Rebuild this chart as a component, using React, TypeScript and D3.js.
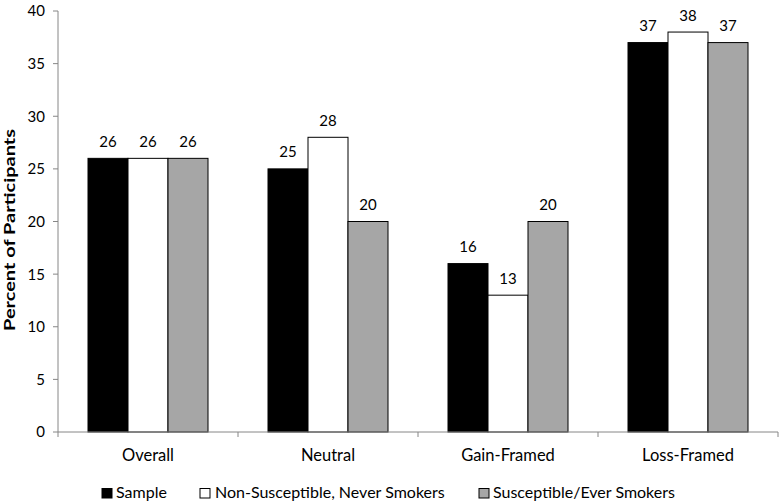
import React from "react";
import * as d3 from "d3";

const categories = ["Overall", "Neutral", "Gain-Framed", "Loss-Framed"];
const seriesNames = ["Sample", "Non-Susceptible, Never Smokers", "Susceptible/Ever Smokers"];
const sample = [26, 25, 16, 37];
const nonSusceptible = [26, 28, 13, 38];
const susceptible = [26, 20, 20, 37];
const yTicks = [0, 5, 10, 15, 20, 25, 30, 35, 40];
const fills = ["#000000", "#ffffff", "#a6a6a6"];

const W = 780, H = 503;
const left = 58, right = 778, top = 11, bottom = 432;
const font = "Lato, 'Open Sans', sans-serif";

export default function App() {
  const series = [sample, nonSusceptible, susceptible];
  const x = d3.scaleBand().domain(categories).range([left, right]).paddingInner(0).paddingOuter(0);
  const inner = d3.scaleBand().domain(seriesNames).range([30, x.bandwidth() - 30]);
  const y = d3.scaleLinear().domain([0, 40]).range([bottom, top]);
  const boundaries = [...categories.map((c) => x(c) as number), right];

  const legendItems = [
    { box: 102, text: 116 },
    { box: 200, text: 215 },
    { box: 479, text: 493 },
  ];

  return (
    <svg width={W} height={H} style={{ position: "absolute", left: 0, top: 0, background: "#fff" }}>
      {/* bars */}
      {categories.map((c, ci) =>
        series.map((s, si) => {
          const bx = (x(c) as number) + (inner(seriesNames[si]) as number);
          const bw = inner.bandwidth();
          const by = y(s[ci]);
          return (
            <g key={c + si}>
              <rect x={bx} y={by} width={bw} height={bottom - by} fill={fills[si]} stroke="#000" strokeWidth={1} />
              <text x={bx + bw / 2} y={by - 11.5} textAnchor="middle" fontFamily={font} fontSize={15} fill="#000">
                {s[ci]}
              </text>
            </g>
          );
        })
      )}
      {/* y axis */}
      <line x1={left} x2={left} y1={top} y2={bottom} stroke="#868686" strokeWidth={1} />
      {yTicks.map((t) => (
        <g key={t}>
          <line x1={left - 5} x2={left} y1={y(t)} y2={y(t)} stroke="#868686" />
          <text x={left - 13} y={y(t)} dy="0.36em" textAnchor="end" fontFamily={font} fontSize={15} fill="#000">
            {t}
          </text>
        </g>
      ))}
      {/* x axis */}
      <line x1={left} x2={right} y1={bottom} y2={bottom} stroke="#868686" strokeWidth={1} />
      {boundaries.map((b, i) => (
        <line key={i} x1={b} x2={b} y1={bottom} y2={bottom + 5} stroke="#868686" />
      ))}
      {categories.map((c) => (
        <text key={c} x={(x(c) as number) + x.bandwidth() / 2} y={461} textAnchor="middle" fontFamily={font} fontSize={16.5} fill="#000">
          {c}
        </text>
      ))}
      {/* y label */}
      <text
        transform={`translate(15, ${230}) rotate(-90)`}
        textAnchor="middle"
        fontFamily={font}
        fontSize={16}
        fontWeight="bold"
        textLength={202}
        lengthAdjust="spacingAndGlyphs"
        fill="#000"
      >
        Percent of Participants
      </text>
      {/* legend */}
      {legendItems.map((li, i) => (
        <g key={i}>
          <rect x={li.box} y={488.5} width={10} height={9.5} fill={fills[i]} stroke="#000" strokeWidth={1} />
          <text x={li.text} y={498} fontFamily={font} fontSize={16} fill="#000">
            {seriesNames[i]}
          </text>
        </g>
      ))}
    </svg>
  );
}
